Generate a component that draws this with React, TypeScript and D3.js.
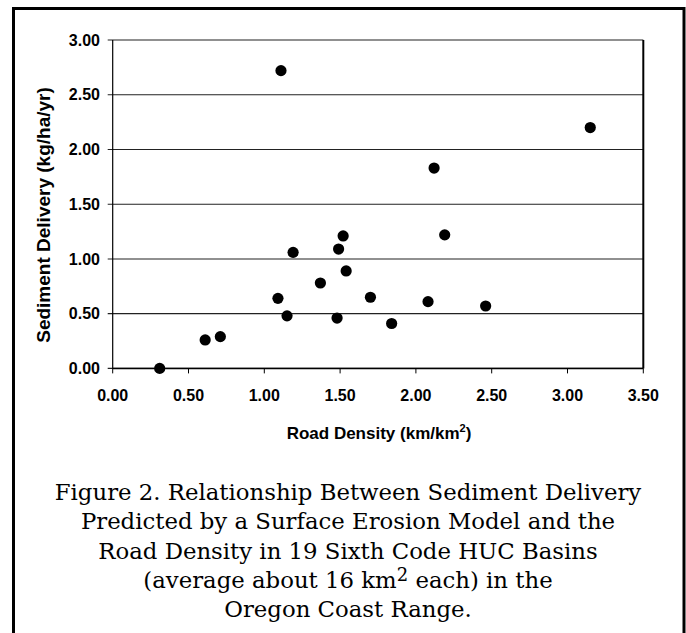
import React from "react";
import * as d3 from "d3";

// values
const roadDensity = [0.31, 0.61, 0.71, 1.09, 1.11, 1.15, 1.19, 1.37, 1.48, 1.49, 1.52, 1.54, 1.7, 1.84, 2.08, 2.12, 2.19, 2.46, 3.15];
const sediment = [0.0, 0.26, 0.29, 0.64, 2.72, 0.48, 1.06, 0.78, 0.46, 1.09, 1.21, 0.89, 0.65, 0.41, 0.61, 1.83, 1.22, 0.57, 2.2];
const xTicks = [0, 0.5, 1, 1.5, 2, 2.5, 3, 3.5];
const yTicks = [0, 0.5, 1, 1.5, 2, 2.5, 3];
const captionLines = [
  "Figure 2. Relationship Between Sediment Delivery",
  "Predicted by a Surface Erosion Model and the",
  "Road Density in 19 Sixth Code HUC Basins",
  "(average about 16 km|2| each) in the",
  "Oregon Coast Range.",
];

const W = 686;
const H = 633;
const sans = "'Liberation Sans', Arial, sans-serif";
const serif = "'DejaVu Serif', serif";

const App = () => {
  const x = d3.scaleLinear().domain([0, 3.5]).range([112.7, 643.3]);
  const y = d3.scaleLinear().domain([0, 3]).range([368.4, 40]);
  const fmt = d3.format(".2f");

  return (
    <svg
      width={W}
      height={H}
      style={{ position: "absolute", left: 0, top: 0, background: "#fff" }}
    >
      {/* outer frame, open at the bottom */}
      <path d={`M13.5,${H + 5} V8.5 H684 V${H + 5}`} fill="none" stroke="#000" strokeWidth={3} />

      {/* gridlines */}
      {yTicks.map((t) => (
        <line key={"g" + t} x1={x(0) - 5} x2={x(3.5)} y1={y(t)} y2={y(t)} stroke="#222" strokeWidth={1.1} />
      ))}
      {/* axes */}
      <line x1={x(0)} x2={x(0)} y1={y(3)} y2={y(0)} stroke="#000" strokeWidth={1.2} />
      <line x1={x(3.5)} x2={x(3.5)} y1={y(3)} y2={y(0)} stroke="#000" strokeWidth={2} />
      <line x1={x(0)} x2={x(3.5)} y1={y(0)} y2={y(0)} stroke="#000" strokeWidth={1.5} />
      {xTicks.map((t) => (
        <line key={"xt" + t} x1={x(t)} x2={x(t)} y1={y(0)} y2={y(0) + 5} stroke="#000" strokeWidth={1} />
      ))}

      {/* tick labels */}
      {yTicks.map((t) => (
        <text
          key={"yl" + t}
          x={100}
          y={y(t)}
          dy="0.36em"
          textAnchor="end"
          fontFamily={sans}
          fontWeight="bold"
          fontSize={16}
        >
          {fmt(t)}
        </text>
      ))}
      {xTicks.map((t) => (
        <text
          key={"xl" + t}
          x={x(t)}
          y={400.5}
          textAnchor="middle"
          fontFamily={sans}
          fontWeight="bold"
          fontSize={16}
        >
          {fmt(t)}
        </text>
      ))}

      {/* axis titles */}
      <text x={379} y={439} textAnchor="middle" fontFamily={sans} fontWeight="bold" fontSize={17}>
        Road Density (km/km
        <tspan fontSize={11} dy={-7}>2</tspan>
        <tspan dy={7}>)</tspan>
      </text>
      <text
        transform="translate(50,215) rotate(-90)"
        textAnchor="middle"
        fontFamily={sans}
        fontWeight="bold"
        fontSize={19}
      >
        Sediment Delivery (kg/ha/yr)
      </text>

      {/* points */}
      {roadDensity.map((d, i) => (
        <circle key={"p" + i} cx={x(d)} cy={y(sediment[i])} r={5.6} fill="#000" />
      ))}

      {/* caption */}
      {captionLines.map((line, i) => {
        const parts = line.split("|");
        return (
          <text
            key={"c" + i}
            x={348}
            y={500 + i * 29.3}
            textAnchor="middle"
            fontFamily={serif}
            fontSize={22.8}
          >
            {parts.length === 1 ? (
              line
            ) : (
              <>
                {parts[0]}
                <tspan fontSize={18} dy={-7}>{parts[1]}</tspan>
                <tspan dy={7}>{parts[2]}</tspan>
              </>
            )}
          </text>
        );
      })}
    </svg>
  );
};

export default App;
